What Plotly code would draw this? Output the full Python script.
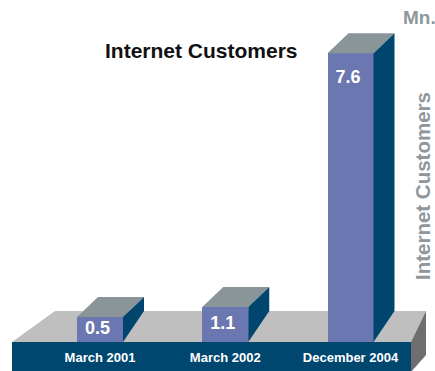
import plotly.graph_objects as go

# ---- data ----
categories = ["March 2001", "March 2002", "December 2004"]
values = [0.5, 1.1, 7.6]            # printed values, million customers
drawn_heights = [0.66, 0.92, 7.6]   # bar heights as drawn in the source graphic (not to scale)
title_text = "Internet Customers"
unit_text = "Mn."
side_text = "Internet Customers"

# ---- layout constants (pixel geometry of the canvas) ----
W, H = 435, 371
PX_PER_X = 125.25   # pixels per category step
X0_PX = 100         # pixel x of first category
PX_PER_Y = 38.0     # pixels per value unit
BASE_PX = 342       # pixel y of bar base

def X(px):
    return (px - X0_PX) / PX_PER_X

def Y(py):
    return (BASE_PX - py) / PX_PER_Y

BW = 46 / PX_PER_X      # bar width
DX = 21 / PX_PER_X      # depth offset x
DY = 20 / PX_PER_Y      # depth offset y (top)
DYB = 31 / PX_PER_Y     # depth offset y (bottom, hidden by platform)

FRONT = "#6b77b0"
SIDE = "#00456e"
TOP = "#8a959a"
PLAT_TOP = "#bfbfbf"
PLAT_SIDE = "#6e6e6e"
PLAT_FRONT = "#00476f"
GRAY_TXT = "#8e979b"
FONT = "Liberation Sans, Arial, Helvetica, sans-serif"

fig = go.Figure()

xs = list(range(len(categories)))

# front faces
fig.add_trace(go.Bar(x=xs, y=drawn_heights, width=BW, marker=dict(color=FRONT, line=dict(width=0)),
                     hoverinfo="skip", showlegend=False))

# top and side faces
for xi, h in zip(xs, drawn_heights):
    l, r = xi - BW / 2, xi + BW / 2
    fig.add_trace(go.Scatter(x=[l, r, r + DX, l + DX, l], y=[h, h, h + DY, h + DY, h],
                             fill="toself", fillcolor=TOP, mode="lines", line=dict(width=0),
                             hoverinfo="skip", showlegend=False))
    fig.add_trace(go.Scatter(x=[r, r + DX, r + DX, r, r], y=[h, h + DY, DYB, 0, h],
                             fill="toself", fillcolor=SIDE, mode="lines", line=dict(width=0),
                             hoverinfo="skip", showlegend=False))

# value labels
label_y = [max(h / 2, h - 25 / PX_PER_Y) for h in drawn_heights]
fig.add_trace(go.Scatter(x=[xi - 0.02 for xi in xs], y=label_y, mode="text",
                         text=[f"{v:.1f}" for v in values],
                         textfont=dict(family=FONT, size=18, color="white", weight="bold"),
                         textposition="middle center", hoverinfo="skip", showlegend=False))

# category labels on platform front
fig.add_trace(go.Scatter(x=xs, y=[Y(358.5)] * 3, mode="text", text=categories,
                         textfont=dict(family=FONT, size=13, color="white", weight="bold"),
                         textposition="middle center", hoverinfo="skip", showlegend=False))

# platform (decoration)
def poly(pts):
    return "M " + " L ".join(f"{X(a)},{Y(b)}" for a, b in pts) + " Z"

shapes = [
    dict(type="path", path=poly([(12, 342), (411, 342), (426, 311), (55, 311)]),
         fillcolor=PLAT_TOP, line=dict(width=0), layer="below"),
    dict(type="path", path=poly([(411, 342), (426, 311), (426, 355), (411, 372)]),
         fillcolor=PLAT_SIDE, line=dict(width=0), layer="below"),
    dict(type="path", path=poly([(12, 342), (411, 342), (411, 372), (12, 372)]),
         fillcolor=PLAT_FRONT, line=dict(width=0), layer="below"),
]

annotations = [
    dict(text=title_text, xref="paper", yref="paper", x=201 / W, y=1 - 50 / H,
         xanchor="center", yanchor="middle", showarrow=False,
         font=dict(family=FONT, size=21, color="#111111", weight="bold")),
    dict(text=unit_text, xref="paper", yref="paper", x=419 / W, y=1 - 17 / H,
         xanchor="center", yanchor="middle", showarrow=False,
         font=dict(family=FONT, size=19, color=GRAY_TXT, weight="bold")),
    dict(text=side_text, xref="paper", yref="paper", x=422 / W, y=1 - 186 / H,
         xanchor="center", yanchor="middle", showarrow=False, textangle=-90,
         font=dict(family=FONT, size=20.5, color=GRAY_TXT, weight="bold")),
]

fig.update_layout(
    width=W, height=H, autosize=False,
    margin=dict(l=0, r=0, t=0, b=0, pad=0),
    paper_bgcolor="white", plot_bgcolor="white",
    xaxis=dict(range=[X(0), X(W)], visible=False, fixedrange=True),
    yaxis=dict(range=[Y(H), Y(0)], visible=False, fixedrange=True),
    shapes=shapes, annotations=annotations,
    bargap=0, showlegend=False,
)

fig.write_html("out.html", config={"displayModeBar": False})
